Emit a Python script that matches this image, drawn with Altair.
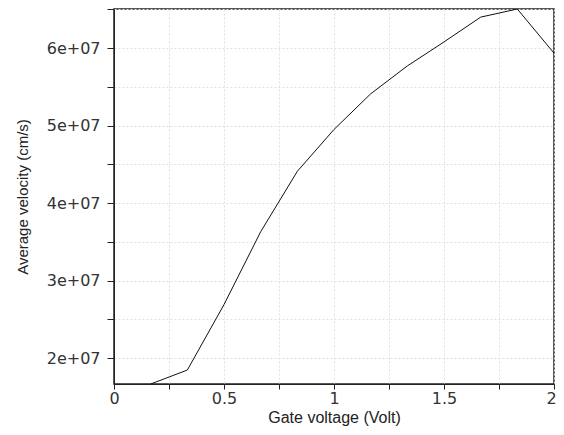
import altair as alt
import pandas as pd

gate_voltage = [1/6, 2/6, 0.5, 4/6, 5/6, 1.0, 7/6, 8/6, 1.5, 10/6, 11/6, 2.0]
avg_velocity = [1.665e7, 1.845e7, 2.69e7, 3.63e7, 4.41e7, 4.95e7, 5.41e7, 5.77e7, 6.08e7, 6.40e7, 6.505e7, 5.935e7]

x_ticks = [0, 0.25, 0.5, 0.75, 1.0, 1.25, 1.5, 1.75, 2.0]
y_ticks = [20000000, 25000000, 30000000, 35000000, 40000000, 45000000, 50000000, 55000000, 60000000, 65000000]

df = pd.DataFrame({"v": gate_voltage, "vel": avg_velocity})

tick_font = "DejaVu Sans"
title_font = "Liberation Sans"

chart = alt.Chart(df).mark_line(color="#111111", strokeWidth=1, clip=True).encode(
    x=alt.X("v:Q", title="Gate voltage (Volt)",
            scale=alt.Scale(domain=[0, 2], nice=False, zero=False),
            axis=alt.Axis(values=x_ticks,
                          labelExpr="datum.value % 0.5 == 0 ? format(datum.value, '~g') : ''",
                          labelOffset={"condition": {"test": "datum.value == 2", "value": -3}, "value": 0},
                          grid=True, gridColor="#e0e0e0", gridDash=[2, 2],
                          domainColor="#222222", tickColor="#222222", tickSize=5,
                          labelFont=tick_font, labelFontSize=16, labelColor="#333333",
                          titleFont=title_font, titleFontSize=16, titleFontWeight="normal",
                          titleColor="#222222", labelPadding=1,
                          titleY=38, titleBaseline="alphabetic", labelFlush=False)),
    y=alt.Y("vel:Q", title="Average velocity (cm/s)",
            scale=alt.Scale(domain=[1.665e7, 6.505e7], nice=False, zero=False),
            axis=alt.Axis(values=y_ticks,
                          labelExpr="datum.value % 10000000 == 0 ? format(datum.value / 10000000, 'd') + 'e+07' : ''",
                          grid=True, gridColor="#e0e0e0", gridDash=[2, 2],
                          domainColor="#222222", tickColor="#222222", tickSize=7,
                          labelFont=tick_font, labelFontSize=16, labelColor="#333333",
                          titleFont=title_font, titleFontSize=15, titleFontWeight="normal",
                          titleColor="#222222", labelPadding=7, titlePadding=16)),
).properties(
    width=440, height=375,
    autosize=alt.AutoSizeParams(type="none"),
    padding={"left": 106, "top": 1, "right": 2, "bottom": 43},
).configure_view(stroke="#222222", strokeWidth=1.5)

chart.save("out.html", embed_options={"renderer": "svg", "actions": False})
